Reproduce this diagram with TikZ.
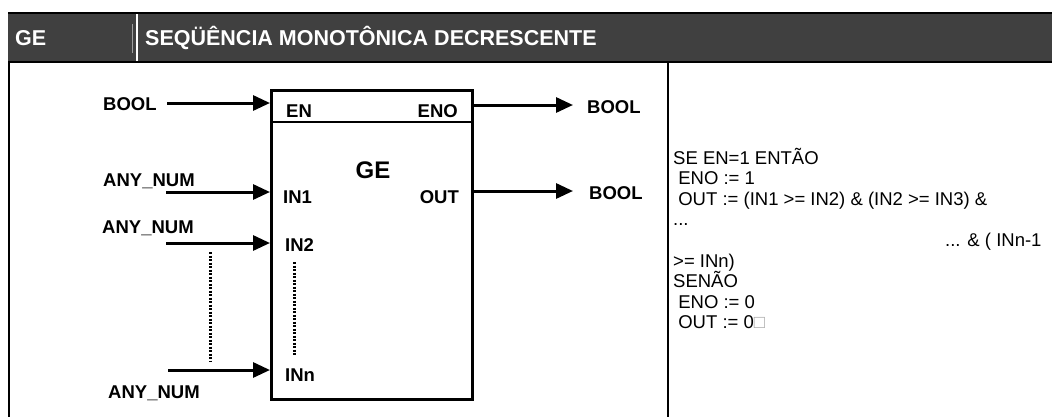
\documentclass[tikz,border=0pt]{standalone}
\usepackage{fontspec}
\setmainfont{Liberation Sans}
\usetikzlibrary{arrows.meta, positioning}
\definecolor{hdrgray}{HTML}{404040}

\begin{document}
\begin{tikzpicture}[x=1pt, y=-1pt,
    lbl/.style={font=\fontsize{18.5}{20}\selectfont\bfseries, inner sep=0pt},
    hdr/.style={font=\fontsize{21.5}{24}\selectfont\bfseries, text=white, inner sep=0pt, anchor=base west},
    code/.style={font=\fontsize{18.5}{20.6}\selectfont, inner sep=0pt, anchor=base west},
    arr/.style={-{Triangle[length=17pt, width=15pt]}, line width=3pt},
    dots/.style={line width=3pt, dash pattern=on 2.2pt off 1.3pt},
    rule/.style={line width=2.5pt},
]
    \useasboundingbox (0,0) rectangle (1052,416);

    % header band
    \fill[hdrgray] (8,13) rectangle (1060,62);
    \draw[rule] (8,13) -- (1060,13);
    \draw[rule] (8,62) -- (1060,62);
    \draw[gray!75, line width=0.6pt] (132,24) -- (132,53);
    \draw[white, line width=2pt] (137,14.3) -- (137,60.7);
    \node[hdr] (hname) at (15,45) {GE};
    \node[hdr] (htitle) at (145,45) {SEQÜÊNCIA MONOTÔNICA DECRESCENTE};

    % table borders
    \draw[rule] (9,62) -- (9,420);
    \draw[rule] (668,62) -- (668,420);

    % function block
    \node[draw, rule, minimum width=201pt, minimum height=309pt, inner sep=0pt, anchor=north west] (blk) at (270,89) {};
    \draw[rule] (blk.north west) ++(0,33) -- ++(201,0);
    \node[font=\fontsize{24}{26}\selectfont\bfseries, inner sep=0pt] (bname) at (373,170) {GE};

    % pins inside the block
    \node[lbl, anchor=base west] (pEN) at (286,117.5) {EN};
    \node[lbl, anchor=base east] (pENO) at (458,117.5) {ENO};
    \node[lbl, anchor=base west] (pIN1) at (283,203.5) {IN1};
    \node[lbl, anchor=base west] (pIN2) at (285,251.5) {IN2};
    \node[lbl, anchor=base west] (pINn) at (285,381.5) {INn};
    \node[lbl, anchor=base east] (pOUT) at (459,203.5) {OUT};
    \draw[dots] (294,262) -- (294,356);

    % input side
    \node[lbl, anchor=base west] (tEN) at (103,110.5) {BOOL};
    \node[lbl, anchor=base west] (tIN1) at (103,186.5) {ANY\_NUM};
    \node[lbl, anchor=base west] (tIN2) at (102,233.5) {ANY\_NUM};
    \node[lbl, anchor=base west] (tINn) at (108,398.5) {ANY\_NUM};
    \coordinate (sEN) at (167,103);
    \coordinate (sIN1) at (166,192);
    \coordinate (sIN2) at (166,243);
    \coordinate (sINn) at (168,370);
    \coordinate (eEN) at (270,103);
    \coordinate (eIN1) at (270,192);
    \coordinate (eIN2) at (270,243);
    \coordinate (eINn) at (270,370);
    \foreach \p in {EN, IN1, IN2, INn}
        \draw[arr] (s\p) -- (e\p);
    \draw[dots] (210,252) -- (210,362);

    % output side
    \coordinate (sENO) at (472,105);
    \coordinate (sOUT) at (472,191);
    \coordinate (eENO) at (573,105);
    \coordinate (eOUT) at (573,191);
    \draw[arr] (sENO) -- (eENO);
    \draw[arr] (sOUT) -- (eOUT);
    \node[lbl, anchor=base west] (tENO) at (587,113.5) {BOOL};
    \node[lbl, anchor=base west] (tOUT) at (589,199.5) {BOOL};

    % description
    \foreach \i/\txt in {1/SE EN=1 ENTÃO, 2/\ ENO := 1, 3/\ OUT := (IN1 >= IN2) \& (IN2 >= IN3) \&,
        6/>= INn), 7/SENÃO, 8/\ ENO := 0, 9/\ OUT := 0{\color{gray!70}□}}
        \node[code] (c\i) at (673,164+20.6*\i-20.6) {\txt};
    \node[code] (c4) at (673,225.8) {...};
    \node[code] (c5) at (945,246.4) {... \& ( INn-1};
\end{tikzpicture}
\end{document}
